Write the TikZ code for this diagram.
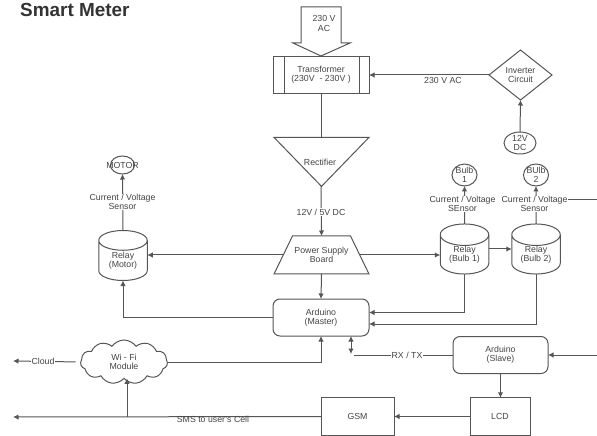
\documentclass[tikz,border=0pt]{standalone}
\usepackage{fontspec}
\setmainfont{Liberation Sans}
\usetikzlibrary{shapes.geometric,shapes.symbols,arrows.meta,calc}
\definecolor{ln}{HTML}{555555}
\definecolor{tx}{HTML}{444444}
\tikzset{
  base/.style={draw=ln,line width=1bp,inner sep=0pt,outer sep=0pt,text=tx,align=center,font=\fontsize{8.8}{9.2}\selectfont},
  rectbox/.style={base,rectangle,minimum width=#1,minimum height=37.5bp},
  roundbox/.style={base,rectangle,rounded corners=7bp,minimum width=#1,minimum height=37bp},
  relay/.style={base,cylinder,shape border rotate=90,aspect=0.7,minimum width=48.5bp,minimum height=50bp,anchor=shape center},
  lab/.style={inner sep=0.6bp,fill=white,text=tx,align=center,font=\fontsize{8.8}{9.2}\selectfont},
  wire/.style={draw=ln,line width=1bp},
  arr/.style={wire,-{Latex[length=5.5bp,width=5.5bp]}},
  darr/.style={wire,{Latex[length=5.5bp,width=5.5bp]}-{Latex[length=5.5bp,width=5.5bp]}},
}
\begin{document}
\begin{tikzpicture}[x=1bp,y=-1bp]
\useasboundingbox (0,0) rectangle (597,436);
% title
\node[anchor=west,inner sep=0pt,text=black!80,font=\fontsize{19}{19}\bfseries\selectfont] (title) at (20,10) {Smart Meter};
% input block arrow
\draw[wire] (301,7) -- (341,7) -- (341,43) -- (350,43) -- (321,56) -- (293,43) -- (301,43) -- cycle;
\node[lab,fill=none] (acin) at (324,23.5) {230 V\\AC};
% transformer
\node[rectbox=96bp] (tr) at (321,75) {Transformer\\(230V \ - 230V )};
\draw[wire] ($(tr.north west)+(11,0)$) -- ($(tr.south west)+(11,0)$);
\draw[wire] ($(tr.north east)+(-9.5,0)$) -- ($(tr.south east)+(-9.5,0)$);
% rectifier
\node[base,isosceles triangle,isosceles triangle stretches,shape border rotate=-90,minimum width=95bp,minimum height=49bp] (rc) at (321.5,157.5) {};
\node[lab,fill=none] (rct) at (320,162) {Rectifier};
% power supply
\node[rectangle,inner sep=0pt,outer sep=0pt,minimum width=77bp,minimum height=38bp,text=tx,align=center,font=\fontsize{8.8}{9.2}\selectfont] (psu) at (321.5,255) {Power Supply\\Board};
\draw[wire,line join=miter] (292.5,236) -- (350.5,236) -- (369,274) -- (274,274) -- cycle;
% arduino
\node[roundbox=96bp] (am) at (321,317.5) {Arduino\\(Master)};
\node[roundbox=95bp] (as) at (500.5,355) {Arduino\\(Slave)};
% relays
\node[relay] (rm) at (123,255.5) {Relay\\(Motor)};
\node[relay] (r1) at (464.5,249) {Relay\\(Bulb 1)};
\node[relay] (r2) at (536,249) {Relay\\(Bulb 2)};
% loads
\node[base,ellipse,minimum width=24bp,minimum height=18bp] (mot) at (122.5,165) {\makebox[0pt][c]{MOTOR}};
\node[base,ellipse,minimum width=25bp,minimum height=18.5bp] (b1) at (464.5,175) {\makebox[0pt][c]{\shortstack{Bulb\\1}}};
\node[base,ellipse,minimum width=25bp,minimum height=18.5bp] (b2) at (536,175) {\makebox[0pt][c]{\shortstack{BUlb\\2}}};
\node[base,ellipse,minimum width=32bp,minimum height=22bp] (dc) at (520,143) {12V\\DC};
\node[base,diamond,minimum width=63bp,minimum height=50bp] (inv) at (520.5,75) {Inverter\\Circuit};
% wifi
\node[base,cloud,cloud puffs=11,cloud puff arc=110,aspect=2,minimum width=87bp,minimum height=44bp] (wf) at (124,362) {Wi - Fi\\Module};
% bottom boxes
\node[rectbox=73bp] (gsm) at (357.5,416.5) {GSM};
\node[rectbox=60bp] (lcd) at (500,416.5) {LCD};
% free ends
\coordinate (cloudend) at (13,361);
\coordinate (smsend) at (13,417);
\coordinate (smsj) at (127,417);
\coordinate (rxj) at (351,354);
\coordinate (rxl) at (354,355);
\coordinate (slavein) at (597,355);
\coordinate (b2out) at (597,200);
% connectors
\draw[wire] (tr.south) -- (321,137);
\draw[arr] (321,186) -- (psu.north);
\draw[arr] (psu.south) -- (am.north);
\draw[arr] (psu.west) -- (psu.west -| rm.east);
\draw[arr] (psu.east) -- (psu.east -| r1.west);
\draw[arr] (am.west) -| (rm.south);
\draw[arr] (r1.south) |- ([yshift=5bp]am.east);
\draw[arr] (r2.south) |- ([yshift=-6.5bp]am.east);
\draw[arr] (r1.shape center -| r1.east) -- (r1.shape center -| r2.west);
\draw[arr] (inv.west) -- (tr.east);
\draw[arr] (dc.north) -- (inv.south);
\draw[arr] (rm.north) -- (mot.south);
\draw[arr] (r1.north) -- (b1.south);
\draw[arr] (r2.north) -- (b2.south);
\draw[arr] (wf.east) -| (am.south);
\draw[arr,shorten <=5bp] (wf.west) -- (cloudend);
\draw[arr] (gsm.west) -- (smsend);
\draw[arr] (smsj) -- (smsj |- wf.south);
\draw[arr] (lcd.west) -- (gsm.east);
\draw[arr] (as.south) -- (as.south |- lcd.north);
\draw[arr] (slavein) -- (as.east);
\draw[wire] (as.west) -- (rxl);
\draw[darr] (rxj) -- (rxj |- am.south);
% labels
\node[lab,fill=none] (l230) at (443,80) {230 V AC};
\node[lab] (l12) at (321,212) {12V / 5V DC};
\node[lab] (lm) at (122.5,202) {Current / Voltage\\Sensor};
\node[lab] (l1) at (462.5,204) {Current / Voltage\\SEnsor};
\node[lab] (l2) at (534.5,204) {Current / Voltage\\Sensor};
\draw[wire] (l2.north east |- 0,200) -- (b2out);
\node[lab] (lc) at (43,361) {Cloud};
\node[lab,fill=none] (ls) at (213,419) {SMS to user's Cell};
\node[lab] (lrx) at (407,355) {RX / TX};
\end{tikzpicture}
\end{document}
